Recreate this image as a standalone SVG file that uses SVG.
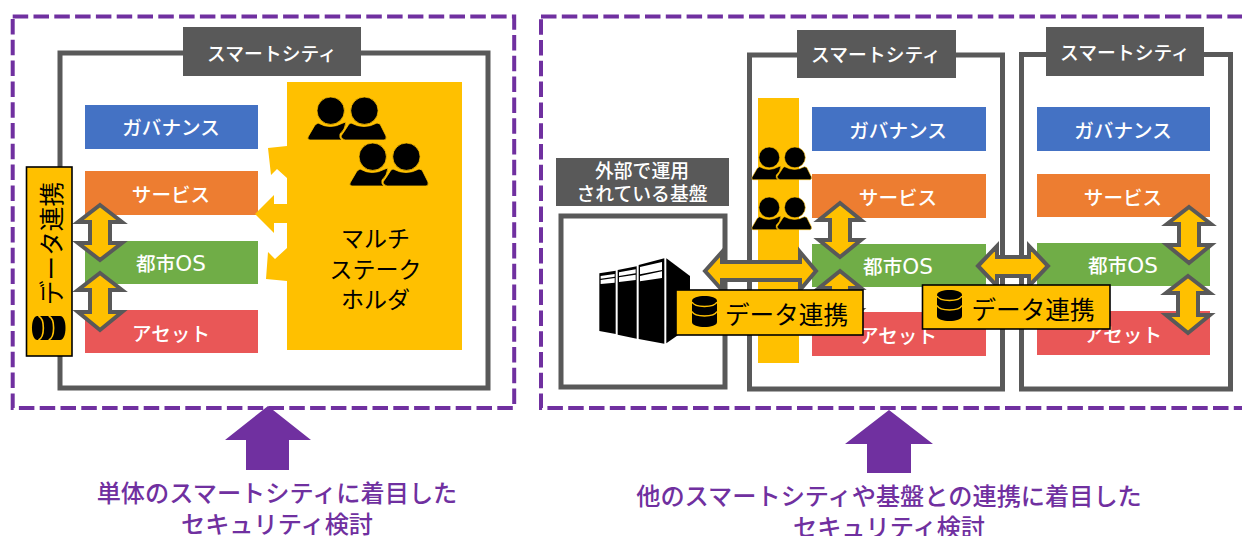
<svg xmlns="http://www.w3.org/2000/svg" width="1242" height="536" viewBox="0 0 1242 536">
<style>
text{font-family:"Noto Sans CJK JP","Noto Sans",sans-serif;text-anchor:middle}
.dash{fill:none;stroke:#7030A0;stroke-width:4;stroke-dasharray:15.5 5.3}
.frame{fill:#fff;stroke:#595959;stroke-width:5}
.tag{fill:#595959}
.tagt{fill:#fff;font-size:18.8px;font-weight:500}
.w{fill:#fff;font-size:19.6px;font-weight:500}
.lat{font-family:"DejaVu Sans",sans-serif;font-size:21.5px;font-weight:400}
.blue{fill:#4472C4}.orange{fill:#ED7D31}.green{fill:#70AD47}.red{fill:#E95757}
.gold{fill:#FFC000}
.arrow{fill:#FFC000;stroke:#595959;stroke-width:4}
.link{fill:#FFC000;stroke:#000;stroke-width:1.6}
.k{fill:#000;font-size:24.6px}
.sh{fill:#000;font-size:23px}
.pu{fill:#7030A0}
.put{fill:#7030A0;font-size:24.2px;font-weight:500}
</style>
<defs>
<g id="people">
<circle cx="22.7" cy="13.7" r="13.7" fill="#000" stroke="#FFC000" stroke-width=".8"/>
<circle cx="56.4" cy="13.7" r="13.7" fill="#000" stroke="#FFC000" stroke-width=".8"/>
<path d="M10 26Q22 33 35 26L38 25Q37 33 32 37Q31 41 34 43H2Q-1 43 0 40L7 28Z" fill="#000" stroke="#FFC000" stroke-width=".8"/>
<path d="M43 26Q56 33 69 26L72 27L78 39Q79 43 76 43H37Q33 42 33 39Q38 32 41 27Z" fill="#000" stroke="#FFC000" stroke-width=".8"/>
</g>
<g id="db">
<path d="M0 5C0-1.700 25-1.700 25 5V26C25 32.700 0 32.700 0 26Z" fill="#000"/>
<path d="M0 6C3 12 22 12 25 6M0 15.500C3 21.500 22 21.500 25 15.500" fill="none" stroke="#FFC000" stroke-width="1.500"/>
</g>
</defs>

<rect class="dash" x="12.700" y="16.500" width="501.500" height="391.500"/>
<rect class="dash" x="541" y="16.500" width="720" height="391.500"/>

<g id="city-left">
<rect class="frame" x="60" y="53" width="428" height="335"/>
<g id="city-left-label"><rect class="tag" x="183" y="27" width="178" height="49"/><text class="tagt" x="272" y="61">スマートシティ</text></g>
<g id="l-gov"><rect class="blue" x="85" y="105" width="173" height="44"/><text class="w" x="171" y="135">ガバナンス</text></g>
<g id="l-svc"><rect class="orange" x="85" y="171" width="173" height="44"/><text class="w" x="171" y="202">サービス</text></g>
<g id="l-os"><rect class="green" x="85" y="241" width="173" height="43"/><text class="w" x="171" y="271">都市<tspan class="lat">OS</tspan></text></g>
<g id="l-asset"><rect class="red" x="85" y="310" width="173" height="43"/><text class="w" x="171" y="341">アセット</text></g>
</g>

<g id="stakeholder">
<polygon class="gold" points="287,82 462,82 462,350 287,350 287,281 266,279 268,252 275,259 287,248 287,223 274,223 274,233 255,214 274,195 274,204 287,204 287,178 277,169 271,175 268,148 287,146"/>
<use href="#people" x="308" y="97"/>
<use href="#people" x="350" y="143"/>
<text class="sh" x="375.500" y="247">マルチ</text>
<text class="sh" x="375.500" y="278">ステーク</text>
<text class="sh" x="375.500" y="308">ホルダ</text>
</g>

<g id="connectors-left">
<polygon class="arrow" points="100,205 122,222 110,222 110,243 122,243 100,260 78,243 90,243 90,222 78,222"/>
<polygon class="arrow" points="100,273 122,290 110,290 110,312 122,312 100,330 78,312 90,312 90,290 78,290"/>
</g>

<g id="link-left">
<rect class="link" x="26.500" y="167" width="45.500" height="189"/>
<text class="k" transform="translate(61,243.500) rotate(-90)">データ連携</text>
<use href="#db" transform="translate(32,340) rotate(-90) scale(.96,1.080)"/>
</g>

<g id="external-label"><rect class="tag" x="556" y="158" width="173" height="48"/>
<text class="tagt" x="642" y="178">外部で運用</text><text class="tagt" x="642" y="201">されている基盤</text></g>
<g id="external">
<rect class="frame" x="561" y="216" width="164" height="171"/>
<g id="servers" transform="translate(550,140) scale(.33333)">
<polygon points="148,400 197,392 197,582 148,573"/>
<polygon points="203,390 260,379 260,596 203,584"/>
<polygon points="266,375 343,355 343,611 266,597"/>
<polygon points="349,355 420,408 420,560 349,610"/>
<path d="M152 408L194 402V410L152 416ZM152 420L194 414V428L152 432ZM207 397L257 388V400L207 408ZM207 412L257 404V420L207 426ZM270 381L336 366V390L270 403ZM270 408L336 394V414L270 424Z" fill="#fff"/>
</g>
</g>

<g id="city-mid">
<rect class="frame" x="749.500" y="55" width="253" height="334"/>
<g id="city-mid-label"><rect class="tag" x="797" y="30" width="159" height="48"/><text class="tagt" x="876" y="62">スマートシティ</text></g>
<rect id="m-bar" class="gold" x="758" y="98" width="41" height="265"/>
<use href="#people" transform="translate(752,147) scale(.76)"/>
<use href="#people" transform="translate(752,197) scale(.76)"/>
<g id="m-gov"><rect class="blue" x="812" y="107" width="174" height="44"/><text class="w" x="898" y="138">ガバナンス</text></g>
<g id="m-svc"><rect class="orange" x="812" y="174" width="174" height="44"/><text class="w" x="898" y="205">サービス</text></g>
<g id="m-os"><rect class="green" x="812" y="244" width="174" height="43"/><text class="w" x="898" y="274">都市<tspan class="lat">OS</tspan></text></g>
<g id="m-asset"><rect class="red" x="812" y="312" width="174" height="44"/><text class="w" x="898" y="343">アセット</text></g>
</g>

<g id="city-right">
<rect class="frame" x="1021.500" y="54.500" width="209" height="334.500"/>
<g id="city-right-label"><rect class="tag" x="1046" y="27" width="158" height="49"/><text class="tagt" x="1125" y="60">スマートシティ</text></g>
<g id="r-gov"><rect class="blue" x="1037" y="107" width="173" height="44"/><text class="w" x="1123" y="138">ガバナンス</text></g>
<g id="r-svc"><rect class="orange" x="1037" y="174" width="173" height="43"/><text class="w" x="1123" y="205">サービス</text></g>
<g id="r-os"><rect class="green" x="1037" y="243" width="173" height="43"/><text class="w" x="1123" y="273">都市<tspan class="lat">OS</tspan></text></g>
<g id="r-asset"><rect class="red" x="1037" y="311" width="173" height="44"/><text class="w" x="1123" y="342">アセット</text></g>
</g>

<g id="connectors-right">
<polygon class="arrow" points="840,203 861,220 850,220 850,240 861,240 840,257 819,240 830,240 830,220 819,220"/>
<polygon class="arrow" points="840,271 861,288 850,288 850,310 861,310 840,328 819,310 830,310 830,288 819,288"/>
<polygon class="arrow" points="705,271 722,252 722,262 800,262 800,252 816,271 800,290 800,280 722,280 722,290"/>
<polygon class="arrow" points="978,266 997,246 997,257 1029,257 1029,246 1048,266 1029,286 1029,276 997,276 997,286"/>
<polygon class="arrow" points="1189,207 1211,224 1199,224 1199,245 1211,245 1189,263 1167,245 1179,245 1179,224 1167,224"/>
<polygon class="arrow" points="1188,276 1210,293 1198,293 1198,315 1210,315 1188,333 1166,315 1178,315 1178,293 1166,293"/>
</g>

<g id="link-mid">
<rect class="link" x="676" y="290" width="187" height="45"/>
<use href="#db" x="692" y="296"/>
<text class="k" x="786.500" y="324">データ連携</text>
</g>
<g id="link-right">
<rect class="link" x="922.500" y="285" width="187.500" height="44"/>
<use href="#db" x="937" y="290"/>
<text class="k" x="1033" y="319">データ連携</text>
</g>

<g id="focus-left">
<polygon class="pu" points="268,406 311,440 289,440 289,470 246,470 246,440 225,440"/>
<text class="put" x="277" y="502">単体のスマートシティに着目した</text>
<text class="put" x="277" y="533">セキュリティ検討</text>
</g>
<g id="focus-right">
<polygon class="pu" points="889,410 933,444 911,444 911,473 867,473 867,444 845,444"/>
<text class="put" x="889" y="505">他のスマートシティや基盤との連携に着目した</text>
<text class="put" x="889" y="536">セキュリティ検討</text>
</g>
</svg>
